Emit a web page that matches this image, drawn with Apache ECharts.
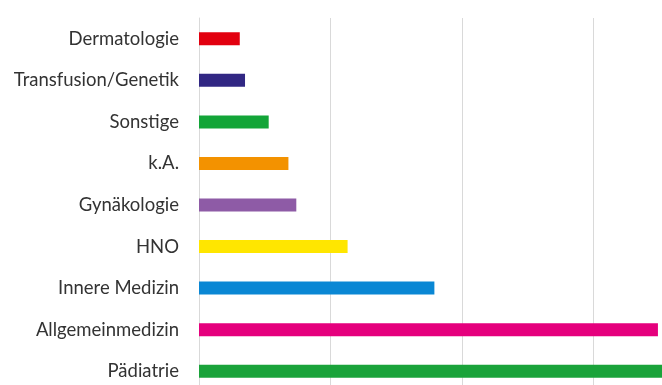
<!DOCTYPE html>
<html>
<head>
<meta charset="utf-8">
<script src="https://cdn.jsdelivr.net/npm/echarts@6/dist/echarts.min.js"></script>
<style>
  html, body { margin: 0; padding: 0; background: #fff; }
  #chart { width: 662px; height: 385px; }
</style>
</head>
<body>
<div id="chart"></div>
<script>
  // Fachrichtungen, von oben nach unten
  var categories = ['Dermatologie', 'Transfusion/Genetik', 'Sonstige', 'k.A.', 'Gynäkologie',
                    'HNO', 'Innere Medizin', 'Allgemeinmedizin', 'Pädiatrie'];
  var values = [3.1, 3.5, 5.3, 6.8, 7.4, 11.3, 17.9, 34.9, 38];
  var barColors = ['#e2000f', '#312783', '#13a538', '#f39200', '#8e5ba6',
                   '#ffe600', '#0a87d4', '#e5007d', '#1aa33a'];

  var chart = echarts.init(document.getElementById('chart'));
  chart.setOption({
    animation: false,
    // the plot runs past the right and bottom edge of the picture
    grid: { left: 199, top: 18, width: 526, height: 374, outerBoundsMode: 'none' },
    xAxis: {
      type: 'value',
      min: 0,
      max: 40,
      interval: 10,
      axisLabel: { show: false },
      axisLine: { show: false },
      axisTick: { show: false },
      splitLine: { lineStyle: { color: '#d9d9d9', width: 1 } }
    },
    yAxis: {
      type: 'category',
      inverse: true,
      data: categories,
      axisTick: { show: false },
      axisLine: { lineStyle: { color: '#d9d9d9' } },
      axisLabel: {
        margin: 20,
        color: '#333',
        fontSize: 18.5,
        fontFamily: 'Lato'
      }
    },
    series: [{
      type: 'bar',
      barWidth: 13,
      data: values.map(function (v, i) {
        return { value: v, itemStyle: { color: barColors[i] } };
      })
    }]
  });
</script>
</body>
</html>
